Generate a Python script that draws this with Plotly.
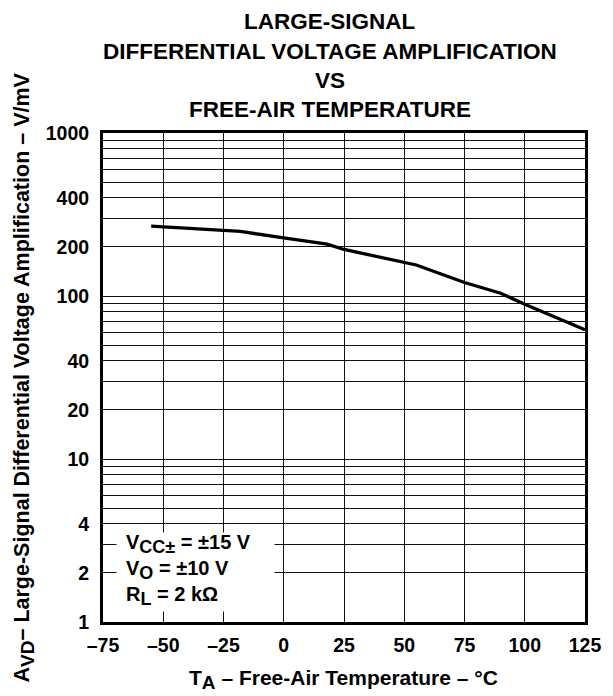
import plotly.graph_objects as go

# Data
temp_c = [-55, -18, 0, 18, 25, 55, 75, 90, 100, 125]
avd_v_per_mv = [268, 249, 227, 208, 193, 155, 121, 104, 89, 62]

x_tick_vals = [-75, -50, -25, 0, 25, 50, 75, 100, 125]
x_tick_text = ["\u201375", "\u201350", "\u201325", "0", "25", "50", "75", "100", "125"]
y_tick_vals = [1, 2, 4, 10, 20, 40, 100, 200, 400, 1000]
y_tick_text = ["1", "2", "4", "10", "20", "40", "100", "200", "400", "1000"]
y_minor_vals = [3, 5, 6, 7, 8, 9, 30, 50, 60, 70, 80, 90, 300, 500, 600, 700, 800, 900]

title_lines = ["LARGE-SIGNAL", "DIFFERENTIAL VOLTAGE AMPLIFICATION", "VS", "FREE-AIR TEMPERATURE"]
SUB = '<sub><span style="font-size:18px">{}</span></sub>'
conditions = ["V" + SUB.format("CC\u00b1") + " = \u00b115 V",
              "V" + SUB.format("O") + " = \u00b110 V",
              "R" + SUB.format("L") + " = 2 k\u03a9"]

FONT = "Liberation Sans, Arial, sans-serif"
W, H = 613, 696
ML, MR, MT, MB = 103, 19, 133, 74
PW, PH = W - ML - MR, H - MT - MB


def px_x(p):
    return (p - ML) / PW


def px_y(p):
    return (H - MB - p) / PH


fig = go.Figure()
fig.add_trace(go.Scatter(
    x=temp_c, y=avd_v_per_mv, mode="lines",
    line=dict(color="black", width=3.3),
    showlegend=False, hoverinfo="skip",
))

fig.update_layout(
    width=W, height=H,
    margin=dict(l=ML, r=MR, t=MT, b=MB, pad=0),
    paper_bgcolor="white", plot_bgcolor="white",
    font=dict(family=FONT, color="black", size=20),
)

fig.update_xaxes(
    range=[-75, 125], tickmode="array", tickvals=x_tick_vals, ticktext=x_tick_text,
    showgrid=True, gridcolor="#111", gridwidth=1,
    showline=True, linecolor="black", linewidth=3, mirror=True,
    ticks="", zeroline=False, ticklabelstandoff=4,
    tickfont=dict(family=FONT, size=19.5, color="black", weight="bold"),
)

fig.update_yaxes(
    type="log", range=[0, 3], tickmode="array", tickvals=y_tick_vals, ticktext=y_tick_text,
    showgrid=True, gridcolor="#111", gridwidth=1,
    minor=dict(tickmode="array", tickvals=y_minor_vals, showgrid=True, gridcolor="#111", gridwidth=1, ticks=""),
    showline=True, linecolor="black", linewidth=3, mirror=True,
    ticks="", zeroline=False, ticklabelstandoff=7,
    tickfont=dict(family=FONT, size=19.5, color="black", weight="bold"),
)

# Title (four centred lines)
for i, line in enumerate(title_lines):
    fig.add_annotation(
        xref="paper", yref="paper", x=px_x(334), y=px_y(22 + 29 * i),
        xanchor="center", yanchor="middle", showarrow=False,
        text="<b>" + line + "</b>",
        font=dict(family=FONT, size=22.5, color="black"),
    )

# Axis titles
fig.add_annotation(
    xref="paper", yref="paper", x=px_x(23), y=px_y(377),
    xanchor="center", yanchor="middle", showarrow=False, textangle=-90,
    text="<b>A" + '<sub><span style="font-size:19px">VD</span></sub>'
         + "\u2013 Large-Signal Differential Voltage Amplification \u2013 V/mV</b>",
    font=dict(family=FONT, size=21.5, color="black"),
)
fig.add_annotation(
    xref="paper", yref="paper", x=px_x(348), y=px_y(679),
    xanchor="center", yanchor="middle", showarrow=False,
    text="<b>T" + '<sub><span style="font-size:19px">A</span></sub>'
         + " \u2013 Free-Air Temperature \u2013 \u00b0C</b>",
    font=dict(family=FONT, size=21, color="black"),
)

# Test-condition box: white background, then the text on top
fig.add_annotation(
    xref="paper", yref="paper", x=px_x(116), y=px_y(572),
    xanchor="left", yanchor="middle", showarrow=False,
    text=" ", bgcolor="white", borderpad=0, width=157, height=78,
)
fig.add_annotation(
    xref="paper", yref="paper", x=px_x(124), y=px_y(570),
    xanchor="left", yanchor="middle", showarrow=False,
    text="<b>" + "<br>".join(conditions) + "</b>",
    align="left",
    font=dict(family=FONT, size=20, color="black"),
)

fig.write_html("out.html", config={"displayModeBar": False},
               post_script="document.body.style.margin='0';")
